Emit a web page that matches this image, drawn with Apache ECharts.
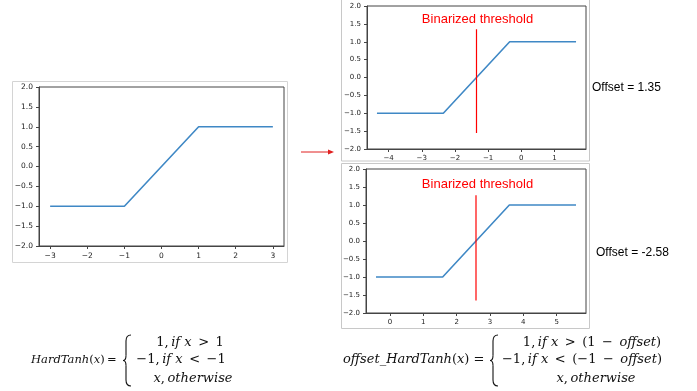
<!DOCTYPE html>
<html>
<head>
<meta charset="utf-8">
<script src="https://cdn.jsdelivr.net/npm/echarts@6/dist/echarts.min.js"></script>
<style>
html, body {margin: 0; padding: 0; background: #fff;}
#main {width: 697px; height: 391px;}
</style>
</head>
<body>
<div id="main"></div>
<script>
// tick labels
var xTicks1 = [-3, -2, -1, 0, 1, 2, 3];
var xTicks2 = [-4, -3, -2, -1, 0, 1];
var xTicks3 = [0, 1, 2, 3, 4, 5];

// HardTanh
var hardX = [-3, -1, 1, 3];
var hardY = [-1, -1, 1, 1];

// offset_HardTanh, offset = 1.35
var offAX = [-4.35, -2.35, -0.35, 1.65];
var offAY = [-1, -1, 1, 1];
var thrAX = [-1.35, -1.35];
var thrAY = [-1.55, 1.35];

// offset_HardTanh, offset = -2.58
var offBX = [-0.42, 1.58, 3.58, 5.58];
var offBY = [-1, -1, 1, 1];
var thrBX = [2.58, 2.58];
var thrBY = [-1.65, 1.27];

var offsets = ["1.35", "-2.58"];

function zip(xs, ys) {
    return xs.map(function(x, i) { return [x, ys[i]] });
}
function minus(v) {
    return (v < 0 ? "\u2212" : "") + Math.abs(v);
}

var chart = echarts.init(document.getElementById("main"), null, {renderer: "canvas"});

var grids = [
    {left: 39, top: 87, width: 245, height: 159, fs: 7.5},
    {left: 367, top: 6, width: 219, height: 143, fs: 7},
    {left: 366, top: 169, width: 220, height: 144, fs: 7},
];
var ranges = [[-3.3, 3.3, xTicks1], [-4.65, 1.95, xTicks2], [-0.72, 5.88, xTicks3]];

var option = {
    animation: false,
    grid: grids.map(function(g) {
        return {left: g.left, top: g.top, width: g.width, height: g.height, show: true,
            borderColor: "#444", borderWidth: 1, backgroundColor: "transparent", outerBoundsMode: "none"};
    }),
    xAxis: ranges.map(function(r, i) {
        return {type: "value", gridIndex: i, min: r[0], max: r[1],
            axisLine: {show: true, onZero: false, lineStyle: {color: "#444"}},
            axisTick: {show: true, length: 3, customValues: r[2], lineStyle: {color: "#444"}},
            axisLabel: {customValues: r[2], margin: 6, color: "#222", fontSize: grids[i].fs,
                fontFamily: "DejaVu Sans", formatter: minus},
            splitLine: {show: false}};
    }),
    yAxis: grids.map(function(g, i) {
        return {type: "value", gridIndex: i, min: -2, max: 2, interval: 0.5,
            axisLine: {show: true, onZero: false, lineStyle: {color: "#444"}},
            axisTick: {show: true, length: 3, lineStyle: {color: "#444"}},
            axisLabel: {margin: 6, color: "#222", fontSize: g.fs, fontFamily: "DejaVu Sans",
                formatter: function(v) { return (v < 0 ? "\u2212" : "") + Math.abs(v).toFixed(1) }},
            splitLine: {show: false}};
    }),
    series: [
        {type: "line", xAxisIndex: 0, yAxisIndex: 0, data: zip(hardX, hardY)},
        {type: "line", xAxisIndex: 1, yAxisIndex: 1, data: zip(offAX, offAY)},
        {type: "line", xAxisIndex: 1, yAxisIndex: 1, data: zip(thrAX, thrAY), red: true},
        {type: "line", xAxisIndex: 2, yAxisIndex: 2, data: zip(offBX, offBY)},
        {type: "line", xAxisIndex: 2, yAxisIndex: 2, data: zip(thrBX, thrBY), red: true},
    ].map(function(s) {
        s.showSymbol = false; s.silent = true;
        s.lineStyle = s.red ? {color: "#ff0000", width: 1.2} : {color: "#3f88c5", width: 1.6};
        delete s.red;
        return s;
    }),
};

function mathText(x, y, text, align, size) {
    size = size || 13;
    return {type: "text", x: x, y: y, style: {text: text, align: align || "left", verticalAlign: "middle", fill: "#111",
        rich: {
            i: {fontFamily: "DejaVu Serif", fontStyle: "italic", fontSize: size, fill: "#111"},
            n: {fontFamily: "DejaVu Serif", fontSize: size, fill: "#111"},
        }}};
}
function brace(x, y, h) {
    var m = h / 2, st = {stroke: "#111", lineWidth: 1.1, fill: null};
    function q(x1, y1, cx, cy, x2, y2) {
        return {type: "bezierCurve", shape: {x1: x1, y1: y1, cpx1: cx, cpy1: cy, x2: x2, y2: y2}, style: st};
    }
    function l(x1, y1, x2, y2) {
        return {type: "line", shape: {x1: x1, y1: y1, x2: x2, y2: y2}, style: st};
    }
    return {type: "group", x: x, y: y, children: [
        q(8, 0, 3, 0, 3, 6), l(3, 6, 3, m - 5), q(3, m - 5, 3, m, 0, m),
        q(0, m, 3, m, 3, m + 5), l(3, m + 5, 3, h - 6), q(3, h - 6, 3, h, 8, h),
    ]};
}
function label(x, y, text, color, size, align) {
    return {type: "text", x: x, y: y, style: {text: text, fill: color, fontSize: size,
        fontFamily: "Liberation Sans", align: align || "left", verticalAlign: "middle"}};
}

var sp = "\u2002", th = "\u2009";
option.graphic = [
    // screenshot frames
    {type: "rect", shape: {x: 12.5, y: 81.5, width: 275, height: 181}, style: {fill: null, stroke: "#d4d4d4", lineWidth: 1}},
    {type: "rect", shape: {x: 341.5, y: -1, width: 248, height: 162}, style: {fill: null, stroke: "#c8c8c8", lineWidth: 1}},
    {type: "rect", shape: {x: 341.5, y: 163.5, width: 248, height: 165}, style: {fill: null, stroke: "#c8c8c8", lineWidth: 1}},
    // arrow
    {type: "line", shape: {x1: 301, y1: 152, x2: 329, y2: 152}, style: {stroke: "#e02020", lineWidth: 1}},
    {type: "polygon", shape: {points: [[334, 152], [328, 149.5], [328, 154.5]]}, style: {fill: "#e02020"}},
    label(477.5, 19, "Binarized threshold", "#ff0000", 13, "center"),
    label(477.5, 184, "Binarized threshold", "#ff0000", 13, "center"),
    label(592, 87.5, "Offset = " + offsets[0], "#000", 12),
    label(596, 252.5, "Offset = " + offsets[1], "#000", 12),
    // formulas
    mathText(31, 360, "{i|HardTanh}{n|(}{i|x}{n|)" + th + "=}", "left", 11.5),
    brace(123, 335, 51),
    mathText(190, 343, "{n|1," + th + "}{i|if x}{n|" + sp + ">" + sp + "1}", "center"),
    mathText(181, 360, "{n|\u22121," + th + "}{i|if x}{n|" + sp + "<" + sp + "\u22121}", "center"),
    mathText(193, 379, "{i|x}{n|," + th + "}{i|otherwise}", "center"),
    mathText(343, 360, "{i|offset_HardTanh}{n|(}{i|x}{n|) =}"),
    brace(490, 335, 51),
    mathText(592, 343, "{n|1," + th + "}{i|if x}{n|" + sp + ">" + sp + "(1" + sp + "\u2212" + sp + "}{i|offset}{n|)}", "center"),
    mathText(582, 360, "{n|\u22121," + th + "}{i|if x}{n|" + sp + "<" + sp + "(\u22121" + sp + "\u2212" + sp + "}{i|offset}{n|)}", "center"),
    mathText(596, 379, "{i|x}{n|," + th + "}{i|otherwise}", "center"),
];

chart.setOption(option);
</script>
</body>
</html>
